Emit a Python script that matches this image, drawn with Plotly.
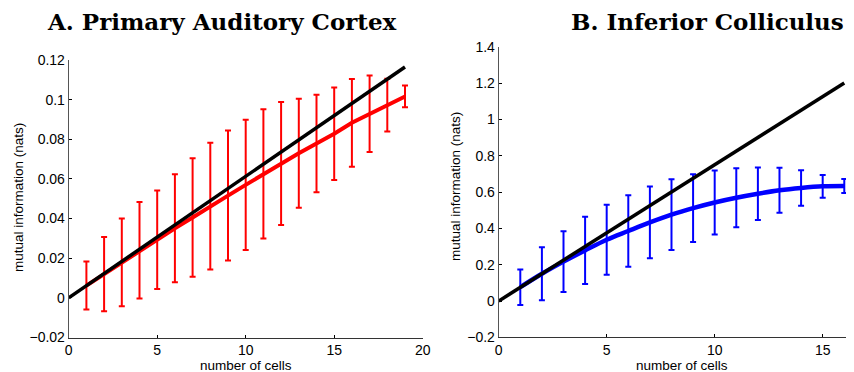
import plotly.graph_objects as go

# ---- data: A. Primary Auditory Cortex ----
a_cells = list(range(1, 20))
a_mean = [0.0062, 0.0120, 0.0179, 0.0240, 0.0293, 0.0351, 0.0405, 0.0463, 0.0516, 0.0570,
          0.0625, 0.0678, 0.0730, 0.0779, 0.0828, 0.0883, 0.0929, 0.0972, 0.1016]
a_err = [0.0121, 0.0187, 0.0221, 0.0243, 0.0248, 0.0272, 0.0299, 0.0320, 0.0328, 0.0328,
         0.0326, 0.0310, 0.0275, 0.0246, 0.0233, 0.0221, 0.0193, 0.0133, 0.0055]
a_lin_x = [0, 19]
a_lin_y = [0, 0.1165]

# ---- data: B. Inferior Colliculus ----
b_cells = list(range(1, 17))
b_mean = [0.076, 0.150, 0.217, 0.279, 0.338, 0.386, 0.433, 0.476, 0.512, 0.543,
          0.569, 0.591, 0.610, 0.623, 0.632, 0.634]
b_err = [0.098, 0.146, 0.168, 0.185, 0.193, 0.197, 0.198, 0.195, 0.187, 0.176,
         0.163, 0.145, 0.124, 0.098, 0.063, 0.038]
b_lin_x = [0, 16]
b_lin_y = [0, 1.202]

a_yticks = [-0.02, 0, 0.02, 0.04, 0.06, 0.08, 0.1, 0.12]
a_yticktext = ["\u22120.02", "0", "0.02", "0.04", "0.06", "0.08", "0.1", "0.12"]
a_xticks = [0, 5, 10, 15, 20]
b_yticks = [-0.2, 0, 0.2, 0.4, 0.6, 0.8, 1, 1.2, 1.4]
b_yticktext = ["\u22120.2", "0", "0.2", "0.4", "0.6", "0.8", "1", "1.2", "1.4"]
b_xticks = [0, 5, 10, 15]

# page body has an 8px margin: figure is drawn 8px in from the window's top-left
OFF = 8
W, H = 854 - OFF, 372 - OFF

def fx(x):
    return (x - OFF) / W

def fy(y):
    return (H - (y - OFF)) / H

fig = go.Figure()

fig.add_trace(go.Scatter(
    x=a_cells, y=a_mean, mode="lines", line=dict(color="#ff0000", width=4),
    error_y=dict(type="data", array=a_err, visible=True, color="#ff0000", thickness=2, width=3),
    xaxis="x", yaxis="y", showlegend=False, cliponaxis=False))
fig.add_trace(go.Scatter(
    x=a_lin_x, y=a_lin_y, mode="lines", line=dict(color="black", width=3.5),
    xaxis="x", yaxis="y", showlegend=False, cliponaxis=False))

fig.add_trace(go.Scatter(
    x=b_cells, y=b_mean, mode="lines", line=dict(color="#0000ff", width=4.5, shape="spline"),
    error_y=dict(type="data", array=b_err, visible=True, color="#0000ff", thickness=2, width=3),
    xaxis="x2", yaxis="y2", showlegend=False, cliponaxis=False))
fig.add_trace(go.Scatter(
    x=b_lin_x, y=b_lin_y, mode="lines", line=dict(color="black", width=3.5),
    xaxis="x2", yaxis="y2", showlegend=False, cliponaxis=False))

tickfont = dict(family="Liberation Sans, Arial, sans-serif", size=14, color="black")
labfont = dict(family="Liberation Sans, Arial, sans-serif", size=13.5, color="black")

def xax(domain, rng, ticks, anchor):
    return dict(domain=domain, range=rng, tickvals=ticks, ticks="inside", ticklen=3,
                tickcolor="black", showline=True, linecolor="#333333", linewidth=1,
                showgrid=False, zeroline=False, tickfont=tickfont, anchor=anchor,
                automargin=False)

def yax(domain, rng, ticks, text, anchor):
    return dict(domain=domain, range=rng, tickvals=ticks, ticktext=text, ticks="inside",
                ticklen=3, tickcolor="black", showline=True, linecolor="#555555", linewidth=1,
                showgrid=False, zeroline=False, tickfont=tickfont, anchor=anchor,
                automargin=False)

fig.update_layout(
    width=W, height=H, margin=dict(l=0, r=0, t=0, b=0),
    paper_bgcolor="white", plot_bgcolor="white",
    xaxis=xax([fx(68.7), fx(422.7)], [0, 20], a_xticks, "y"),
    yaxis=yax([fy(337.5), fy(60)], [-0.02, 0.12], a_yticks, a_yticktext, "x"),
    xaxis2=xax([fx(498.7), 1.0], [0, 16.45], b_xticks, "y2"),
    yaxis2=yax([fy(337.3), fy(47)], [-0.2, 1.4], b_yticks, b_yticktext, "x2"),
)

def ann(text, x, y, font, angle=0, xanchor="center"):
    fig.add_annotation(text=text, xref="paper", yref="paper", x=fx(x), y=fy(y),
                       xanchor=xanchor, yanchor="middle", showarrow=False, font=font,
                       textangle=angle, borderpad=0)

titfont = dict(family="DejaVu Serif, serif", size=23, color="black")
ann("<b>A. Primary Auditory Cortex</b>", 222, 22, titfont)
ann("<b>B. Inferior Colliculus</b>", 845, 22, titfont, xanchor="right")

ann("number of cells", 246, 365, labfont)
ann("number of cells", 682, 365, labfont)
ann("mutual information (nats)", 19, 198, labfont, -90)
ann("mutual information (nats)", 455, 187, labfont, -90)

fig.write_html("out.html")
